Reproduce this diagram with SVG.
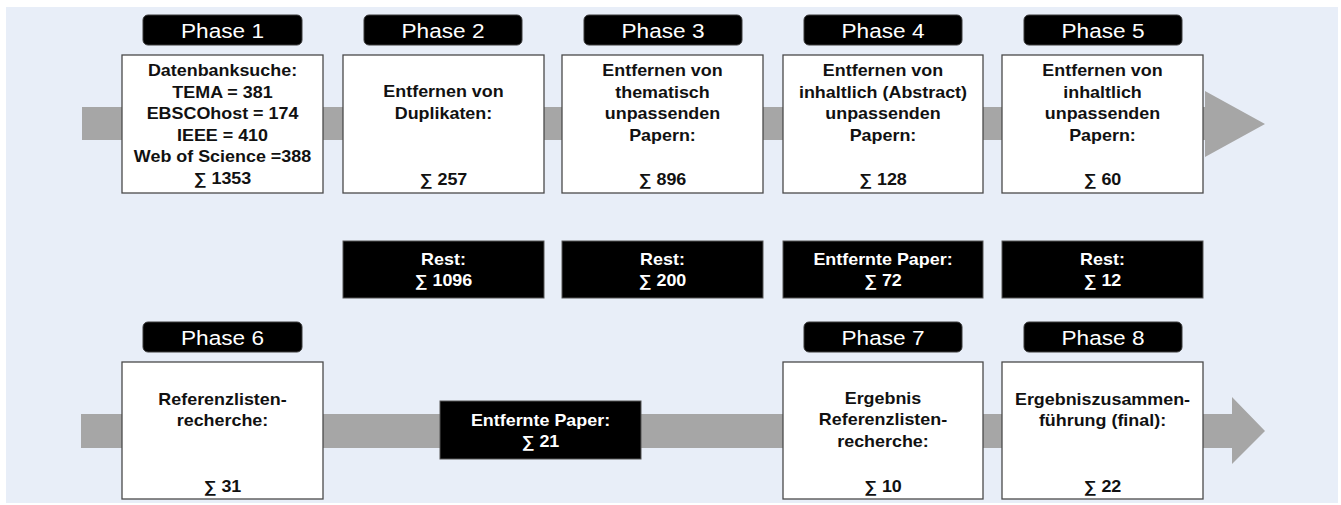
<svg xmlns="http://www.w3.org/2000/svg" width="1341" height="505" viewBox="0 0 1341 505">
<style>
.bg{fill:#e8eef8}
.band{fill:#a6a6a6}
.box{fill:#ffffff;stroke:#4a4a4a;stroke-width:1.3}
.lab{fill:#000000;stroke:#3a3a3a;stroke-width:1}
.blk{fill:#000000;stroke:#555555;stroke-width:1}
.bt{font-family:"Liberation Sans",Arial,sans-serif;font-weight:bold;font-size:16px;text-anchor:middle;fill:#111111}
.wt{font-family:"Liberation Sans",Arial,sans-serif;font-weight:bold;font-size:16px;text-anchor:middle;fill:#ffffff}
.ph{font-family:"Liberation Sans",Arial,sans-serif;font-size:19.5px;text-anchor:middle;fill:#ffffff}
</style>
<rect class="bg" x="6" y="7" width="1332" height="496"/>
<g id="connectors">
<polygon class="band" points="82,107 1205,107 1205,91 1265,124 1205,157 1205,140 82,140"/>
<polygon class="band" points="81,414 1232,414 1232,397 1265,431 1232,464 1232,448 81,448"/>
</g>
<g id="phase1">
<rect class="lab" x="143" y="15" width="159" height="30" rx="5"/>
<text class="ph" transform="matrix(1.16 0 0 1 222.5 0)" x="0" y="38.5">Phase 1</text>
<rect class="box" x="122" y="55" width="201" height="138"/>
<text class="bt" transform="matrix(1.12 0 0 1 222.5 0)" x="0" y="76.5">Datenbanksuche:</text>
<text class="bt" transform="matrix(1.12 0 0 1 222.5 0)" x="0" y="98">TEMA = 381</text>
<text class="bt" transform="matrix(1.12 0 0 1 222.5 0)" x="0" y="119.5">EBSCOhost = 174</text>
<text class="bt" transform="matrix(1.12 0 0 1 222.5 0)" x="0" y="141">IEEE = 410</text>
<text class="bt" transform="matrix(1.12 0 0 1 222.5 0)" x="0" y="162.5">Web of Science =388</text>
<text class="bt" transform="matrix(1.12 0 0 1 222.5 0)" x="0" y="184">∑ 1353</text>
</g>
<g id="phase2">
<rect class="lab" x="364" y="15" width="158" height="30" rx="5"/>
<text class="ph" transform="matrix(1.16 0 0 1 443 0)" x="0" y="38.5">Phase 2</text>
<rect class="box" x="343" y="55" width="201" height="138"/>
<text class="bt" transform="matrix(1.12 0 0 1 443.5 0)" x="0" y="97.5">Entfernen von</text>
<text class="bt" transform="matrix(1.12 0 0 1 443.5 0)" x="0" y="119.5">Duplikaten:</text>
<text class="bt" transform="matrix(1.12 0 0 1 443.5 0)" x="0" y="185">∑ 257</text>
</g>
<g id="phase3">
<rect class="lab" x="584" y="15" width="158" height="30" rx="5"/>
<text class="ph" transform="matrix(1.16 0 0 1 663 0)" x="0" y="38.5">Phase 3</text>
<rect class="box" x="562" y="55" width="201" height="138"/>
<text class="bt" transform="matrix(1.12 0 0 1 662.5 0)" x="0" y="76.5">Entfernen von</text>
<text class="bt" transform="matrix(1.12 0 0 1 662.5 0)" x="0" y="98">thematisch</text>
<text class="bt" transform="matrix(1.12 0 0 1 662.5 0)" x="0" y="119.5">unpassenden</text>
<text class="bt" transform="matrix(1.12 0 0 1 662.5 0)" x="0" y="141">Papern:</text>
<text class="bt" transform="matrix(1.12 0 0 1 662.5 0)" x="0" y="185">∑ 896</text>
</g>
<g id="phase4">
<rect class="lab" x="804" y="15" width="158" height="30" rx="5"/>
<text class="ph" transform="matrix(1.16 0 0 1 883 0)" x="0" y="38.5">Phase 4</text>
<rect class="box" x="783" y="55" width="200" height="138"/>
<text class="bt" transform="matrix(1.12 0 0 1 883 0)" x="0" y="76.5">Entfernen von</text>
<text class="bt" transform="matrix(1.12 0 0 1 883 0)" x="0" y="98">inhaltlich (Abstract)</text>
<text class="bt" transform="matrix(1.12 0 0 1 883 0)" x="0" y="119.5">unpassenden</text>
<text class="bt" transform="matrix(1.12 0 0 1 883 0)" x="0" y="141">Papern:</text>
<text class="bt" transform="matrix(1.12 0 0 1 883 0)" x="0" y="185">∑ 128</text>
</g>
<g id="phase5">
<rect class="lab" x="1024" y="15" width="158" height="30" rx="5"/>
<text class="ph" transform="matrix(1.16 0 0 1 1103 0)" x="0" y="38.5">Phase 5</text>
<rect class="box" x="1002" y="55" width="201" height="138"/>
<text class="bt" transform="matrix(1.12 0 0 1 1102.5 0)" x="0" y="76.5">Entfernen von</text>
<text class="bt" transform="matrix(1.12 0 0 1 1102.5 0)" x="0" y="98">inhaltlich</text>
<text class="bt" transform="matrix(1.12 0 0 1 1102.5 0)" x="0" y="119.5">unpassenden</text>
<text class="bt" transform="matrix(1.12 0 0 1 1102.5 0)" x="0" y="141">Papern:</text>
<text class="bt" transform="matrix(1.12 0 0 1 1102.5 0)" x="0" y="185">∑ 60</text>
</g>
<g id="rest2">
<rect class="blk" x="343" y="241" width="201" height="57"/>
<text class="wt" transform="matrix(1.12 0 0 1 443.5 0)" x="0" y="265">Rest:</text>
<text class="wt" transform="matrix(1.12 0 0 1 443.5 0)" x="0" y="286.5">∑ 1096</text>
</g>
<g id="rest3">
<rect class="blk" x="562" y="241" width="201" height="57"/>
<text class="wt" transform="matrix(1.12 0 0 1 662.5 0)" x="0" y="265">Rest:</text>
<text class="wt" transform="matrix(1.12 0 0 1 662.5 0)" x="0" y="286.5">∑ 200</text>
</g>
<g id="removed4">
<rect class="blk" x="783" y="241" width="200" height="57"/>
<text class="wt" transform="matrix(1.12 0 0 1 883 0)" x="0" y="265">Entfernte Paper:</text>
<text class="wt" transform="matrix(1.12 0 0 1 883 0)" x="0" y="286.5">∑ 72</text>
</g>
<g id="rest5">
<rect class="blk" x="1002" y="241" width="201" height="57"/>
<text class="wt" transform="matrix(1.12 0 0 1 1102.5 0)" x="0" y="265">Rest:</text>
<text class="wt" transform="matrix(1.12 0 0 1 1102.5 0)" x="0" y="286.5">∑ 12</text>
</g>
<g id="phase6">
<rect class="lab" x="143" y="322" width="159" height="30" rx="5"/>
<text class="ph" transform="matrix(1.16 0 0 1 222.5 0)" x="0" y="345.5">Phase 6</text>
<rect class="box" x="122" y="362" width="201" height="137"/>
<text class="bt" transform="matrix(1.12 0 0 1 222.5 0)" x="0" y="405.5">Referenzlisten-</text>
<text class="bt" transform="matrix(1.12 0 0 1 222.5 0)" x="0" y="426">recherche:</text>
<text class="bt" transform="matrix(1.12 0 0 1 222.5 0)" x="0" y="492">∑ 31</text>
</g>
<g id="removed6">
<rect class="blk" x="440" y="401" width="201" height="58"/>
<text class="wt" transform="matrix(1.12 0 0 1 540.5 0)" x="0" y="426.5">Entfernte Paper:</text>
<text class="wt" transform="matrix(1.12 0 0 1 540.5 0)" x="0" y="447">∑ 21</text>
</g>
<g id="phase7">
<rect class="lab" x="804" y="322" width="158" height="30" rx="5"/>
<text class="ph" transform="matrix(1.16 0 0 1 883 0)" x="0" y="345.5">Phase 7</text>
<rect class="box" x="783" y="362" width="200" height="137"/>
<text class="bt" transform="matrix(1.12 0 0 1 883 0)" x="0" y="404">Ergebnis</text>
<text class="bt" transform="matrix(1.12 0 0 1 883 0)" x="0" y="425.5">Referenzlisten-</text>
<text class="bt" transform="matrix(1.12 0 0 1 883 0)" x="0" y="447">recherche:</text>
<text class="bt" transform="matrix(1.12 0 0 1 883 0)" x="0" y="492">∑ 10</text>
</g>
<g id="phase8">
<rect class="lab" x="1024" y="322" width="158" height="30" rx="5"/>
<text class="ph" transform="matrix(1.16 0 0 1 1103 0)" x="0" y="345.5">Phase 8</text>
<rect class="box" x="1002" y="362" width="201" height="137"/>
<text class="bt" transform="matrix(1.12 0 0 1 1102.5 0)" x="0" y="405.5">Ergebniszusammen-</text>
<text class="bt" transform="matrix(1.12 0 0 1 1102.5 0)" x="0" y="426">führung (final):</text>
<text class="bt" transform="matrix(1.12 0 0 1 1102.5 0)" x="0" y="492">∑ 22</text>
</g>
</svg>
